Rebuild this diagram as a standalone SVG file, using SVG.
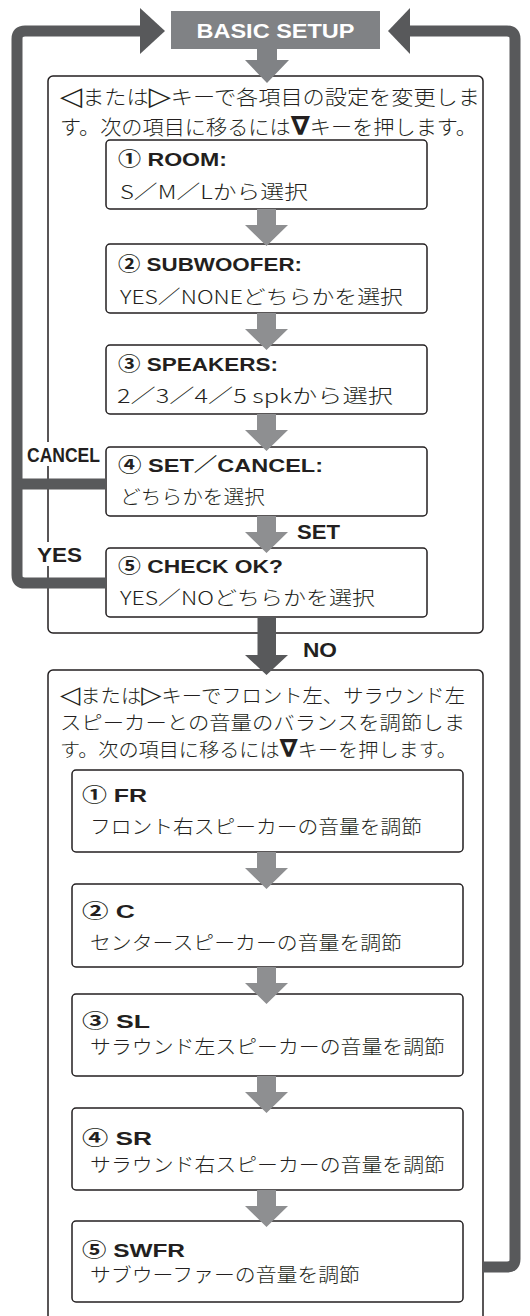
<svg xmlns="http://www.w3.org/2000/svg" xmlns:xlink="http://www.w3.org/1999/xlink" width="530" height="1316" viewBox="0 0 530 1316">
<defs>
<style>
.frame{fill:none;stroke:#231f20;stroke-width:1.5}
.box{fill:#fff;stroke:#231f20;stroke-width:1.5}
.conn{fill:none;stroke:#58595b;stroke-width:11}
.head{fill:#58595b}
.arr{fill:#8e8f91}
.hd{font-family:"Liberation Sans","Noto Sans CJK JP",sans-serif;font-size:19px;font-weight:bold;fill:#231f20}
.jp{font-family:"Noto Sans CJK JP",sans-serif;font-size:19px;font-weight:300;fill:#231f20}
.intro1{font-family:"Noto Sans CJK JP",sans-serif;font-size:20px;font-weight:300;fill:#231f20}
.intro2{font-family:"Noto Sans CJK JP",sans-serif;font-size:19px;font-weight:300;fill:#231f20}
.key{font-family:"DejaVu Sans",sans-serif;font-weight:bold;font-size:1.3em}
.lbl{font-family:"Liberation Sans Narrow","Liberation Sans",sans-serif;font-size:20px;font-weight:bold;fill:#231f20}
.title{font-family:"Liberation Sans",sans-serif;font-size:21px;font-weight:bold;fill:#fff}
</style>
<path id="darr" d="M-9.5,0 H9.5 V16 H21.5 L0,37 L-21.5,16 H-9.5 Z"/>
</defs>
<rect width="530" height="1316" fill="#fff"/>

<g id="frame-setup">
<rect class="frame" x="48" y="76" width="435" height="557" rx="5"/>
<text class="intro1" x="60" y="105" textLength="420" lengthAdjust="spacingAndGlyphs"><tspan class="key">◁</tspan>または<tspan class="key">▷</tspan>キーで各項目の設定を変更しま</text>
<text class="intro1" x="60" y="135" textLength="417" lengthAdjust="spacingAndGlyphs">す。次の項目に移るには<tspan class="key">∇</tspan>キーを押します。</text>
</g>

<g id="frame-balance">
<rect class="frame" x="48" y="670" width="435" height="670" rx="5"/>
<text class="intro2" x="60" y="703" textLength="405" lengthAdjust="spacingAndGlyphs"><tspan class="key">◁</tspan>または<tspan class="key">▷</tspan>キーでフロント左、サラウンド左</text>
<text class="intro2" x="60" y="730" textLength="405" lengthAdjust="spacingAndGlyphs">スピーカーとの音量のバランスを調節しま</text>
<text class="intro2" x="60" y="757" textLength="397" lengthAdjust="spacingAndGlyphs">す。次の項目に移るには<tspan class="key">∇</tspan>キーを押します。</text>
</g>

<g id="basic-setup">
<rect x="171" y="11" width="209" height="38" fill="#808285"/>
<text class="title" x="275.5" y="38" text-anchor="middle" textLength="158" lengthAdjust="spacingAndGlyphs">BASIC SETUP</text>
<path d="M257,49 H277 V60 H289 L267,83 L245,60 H257 Z" fill="#808285"/>
</g>

<g id="room">
<rect class="box" x="106" y="140" width="321" height="69" rx="4"/>
<text class="hd" x="118" y="166" textLength="109" lengthAdjust="spacingAndGlyphs">① ROOM:</text>
<text class="jp" x="120" y="199" textLength="188" lengthAdjust="spacingAndGlyphs">S／M／Lから選択</text>
</g>
<g id="subwoofer">
<rect class="box" x="106" y="244" width="321" height="69" rx="4"/>
<text class="hd" x="118" y="271" textLength="184" lengthAdjust="spacingAndGlyphs">② SUBWOOFER:</text>
<text class="jp" x="120" y="304" textLength="283" lengthAdjust="spacingAndGlyphs">YES／NONEどちらかを選択</text>
</g>
<g id="speakers">
<rect class="box" x="106" y="345" width="321" height="69" rx="4"/>
<text class="hd" x="118" y="371" textLength="160" lengthAdjust="spacingAndGlyphs">③ SPEAKERS:</text>
<text class="jp" x="117" y="403" textLength="276" lengthAdjust="spacingAndGlyphs">2／3／4／5 spkから選択</text>
</g>
<g id="set-cancel">
<rect class="box" x="106" y="447" width="321" height="69" rx="4"/>
<text class="hd" x="118" y="472" textLength="205" lengthAdjust="spacingAndGlyphs">④ SET／CANCEL:</text>
<text class="jp" x="120" y="504" textLength="145" lengthAdjust="spacingAndGlyphs">どちらかを選択</text>
</g>
<g id="check-ok">
<rect class="box" x="106" y="548" width="321" height="69" rx="4"/>
<text class="hd" x="118" y="573" textLength="165" lengthAdjust="spacingAndGlyphs">⑤ CHECK OK?</text>
<text class="jp" x="120" y="605" textLength="255" lengthAdjust="spacingAndGlyphs">YES／NOどちらかを選択</text>
</g>

<g id="fr">
<rect class="box" x="72" y="770" width="391" height="82" rx="4"/>
<text class="hd" x="82" y="802" textLength="65" lengthAdjust="spacingAndGlyphs">① FR</text>
<text class="jp" x="90" y="834" textLength="332" lengthAdjust="spacingAndGlyphs">フロント右スピーカーの音量を調節</text>
</g>
<g id="c">
<rect class="box" x="72" y="884" width="391" height="83" rx="4"/>
<text class="hd" x="82" y="918" textLength="53" lengthAdjust="spacingAndGlyphs">② C</text>
<text class="jp" x="90" y="950" textLength="312" lengthAdjust="spacingAndGlyphs">センタースピーカーの音量を調節</text>
</g>
<g id="sl">
<rect class="box" x="72" y="994" width="391" height="82" rx="4"/>
<text class="hd" x="82" y="1028" textLength="68" lengthAdjust="spacingAndGlyphs">③ SL</text>
<text class="jp" x="90" y="1054" textLength="355" lengthAdjust="spacingAndGlyphs">サラウンド左スピーカーの音量を調節</text>
</g>
<g id="sr">
<rect class="box" x="72" y="1108" width="391" height="82" rx="4"/>
<text class="hd" x="82" y="1145" textLength="70" lengthAdjust="spacingAndGlyphs">④ SR</text>
<text class="jp" x="90" y="1172" textLength="355" lengthAdjust="spacingAndGlyphs">サラウンド右スピーカーの音量を調節</text>
</g>
<g id="swfr">
<rect class="box" x="72" y="1221" width="391" height="81" rx="4"/>
<text class="hd" x="82" y="1257" textLength="103" lengthAdjust="spacingAndGlyphs">⑤ SWFR</text>
<text class="jp" x="90" y="1282" textLength="270" lengthAdjust="spacingAndGlyphs">サブウーファーの音量を調節</text>
</g>

<g id="connectors">
<path class="conn" d="M141,31 H25 Q17,31 17,39 V575 Q17,583 25,583 H106"/>
<path class="conn" d="M17,484 H106"/>
<polygon class="head" points="140,8 165,31 140,54"/>
<path class="conn" d="M409,31 H507 Q515,31 515,39 V1259 Q515,1267 507,1267 H483"/>
<polygon class="head" points="410,8 388,31 410,54"/>
<use xlink:href="#darr" class="arr" x="266.5" y="209"/>
<use xlink:href="#darr" class="arr" x="266.5" y="313"/>
<use xlink:href="#darr" class="arr" x="266.5" y="414"/>
<use xlink:href="#darr" class="arr" x="266.5" y="516"/>
<path class="head" d="M257.5,617 H276 V655 H288 L266.5,675 L245,655 H257.5 Z"/>
<use xlink:href="#darr" class="arr" x="266.5" y="852"/>
<use xlink:href="#darr" class="arr" x="266.5" y="967"/>
<use xlink:href="#darr" class="arr" x="266.5" y="1076"/>
<use xlink:href="#darr" class="arr" x="266.5" y="1190"/>
<rect x="25" y="442" width="77" height="24" fill="#fff"/>
<text class="lbl" x="27" y="462" textLength="73" lengthAdjust="spacingAndGlyphs">CANCEL</text>
<rect x="35" y="542" width="49" height="24" fill="#fff"/>
<text class="lbl" x="37" y="562" textLength="45" lengthAdjust="spacingAndGlyphs">YES</text>
<text class="lbl" x="297" y="539" textLength="43" lengthAdjust="spacingAndGlyphs">SET</text>
<text class="lbl" x="303" y="657" textLength="34" lengthAdjust="spacingAndGlyphs">NO</text>
</g>
</svg>
